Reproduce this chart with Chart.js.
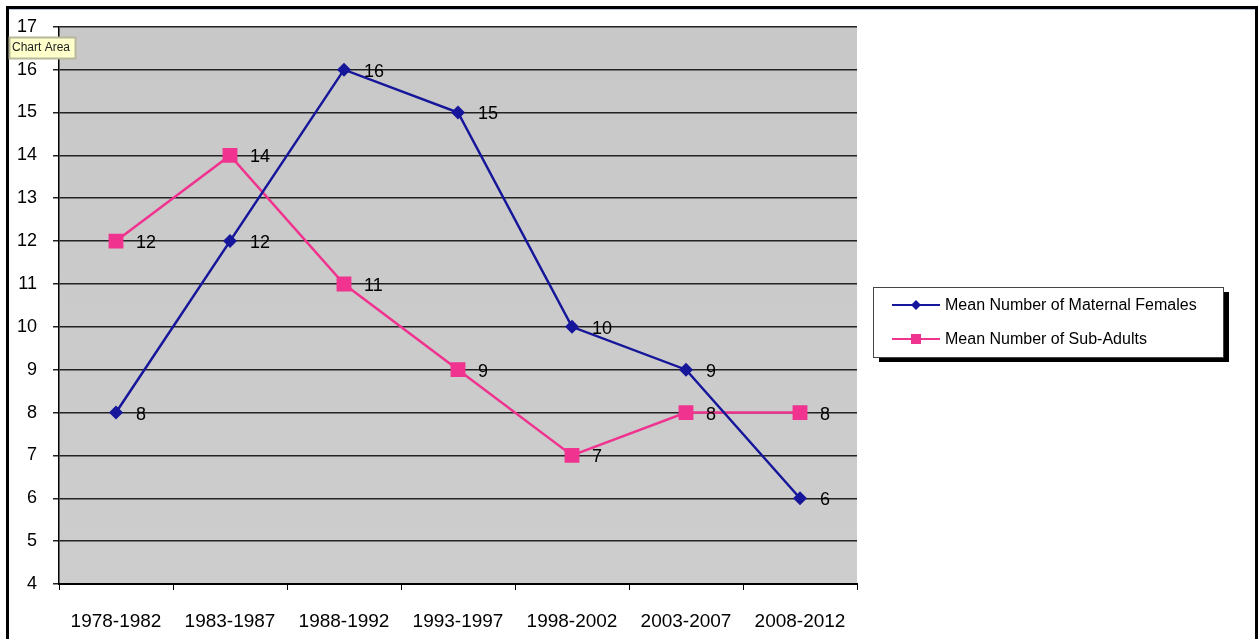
<!DOCTYPE html>
<html>
<head>
<meta charset="utf-8">
<script src="https://cdn.jsdelivr.net/npm/chart.js@4.4.1/dist/chart.umd.min.js"></script>
<style>
  html, body { margin: 0; padding: 0; background: #ffffff; }
  #wrap { position: relative; width: 1259px; height: 639px; }
</style>
</head>
<body>
<div id="wrap"><canvas id="c" width="1259" height="639"></canvas></div>
<script>
const categories = ['1978-1982', '1983-1987', '1988-1992', '1993-1997', '1998-2002', '2003-2007', '2008-2012'];
const maternalFemales = [8, 12, 16, 15, 10, 9, 6];
const subAdults = [12, 14, 11, 9, 7, 8, 8];
const seriesNames = ['Mean Number of Maternal Females', 'Mean Number of Sub-Adults'];
const yMin = 4, yMax = 17;

const FONT = '"Liberation Sans", Arial, sans-serif';
const BLUE = '#16169a';
const PINK = '#f0338f';

const framePlugin = {
  id: 'frame',
  beforeDraw(chart) {
    const ctx = chart.ctx;
    const a = chart.chartArea;
    ctx.save();
    ctx.fillStyle = '#ffffff';
    ctx.fillRect(0, 0, chart.width, chart.height);
    const g = ctx.createLinearGradient(a.left, a.top, a.left, a.bottom);
    g.addColorStop(0, '#c8c8c8');
    g.addColorStop(1, '#cdcdcd');
    ctx.fillStyle = g;
    ctx.fillRect(a.left, a.top, a.right - a.left, a.bottom - a.top);
    ctx.fillStyle = '#000000';
    ctx.fillRect(6, 6, 1252, 3);
    ctx.fillRect(6, 6, 3, 633);
    ctx.fillRect(1255, 6, 3, 633);
    ctx.fillStyle = '#b9c8e0';
    ctx.fillRect(9, 9, 1246, 1);
    ctx.restore();
  },
  afterDraw(chart) {
    const ctx = chart.ctx;
    ctx.save();
    const lx = 873, ly = 287, lw = 350, lh = 70;
    ctx.fillStyle = '#000000';
    ctx.fillRect(lx + 6, ly + 5, lw, lh);
    ctx.fillStyle = '#ffffff';
    ctx.fillRect(lx, ly, lw, lh);
    ctx.strokeStyle = '#444444';
    ctx.lineWidth = 1;
    ctx.strokeRect(lx + 0.5, ly + 0.5, lw, lh);
    const rows = [305, 339];
    chart.data.datasets.forEach((ds, i) => {
      const y = rows[i];
      ctx.strokeStyle = ds.borderColor;
      ctx.lineWidth = 2;
      ctx.beginPath();
      ctx.moveTo(892, y);
      ctx.lineTo(940, y);
      ctx.stroke();
      ctx.fillStyle = ds.borderColor;
      if (ds.pointStyle === 'rect') {
        ctx.fillRect(916 - 5, y - 5, 10, 10);
      } else {
        ctx.beginPath();
        ctx.moveTo(916, y - 5); ctx.lineTo(921, y); ctx.lineTo(916, y + 5); ctx.lineTo(911, y);
        ctx.closePath(); ctx.fill();
      }
      ctx.fillStyle = '#000000';
      ctx.font = '16px ' + FONT;
      ctx.textAlign = 'left';
      ctx.textBaseline = 'middle';
      ctx.fillText(ds.label, 945, y + 1);
    });
    ctx.fillStyle = '#ffffcc';
    ctx.fillRect(9, 37, 66, 21);
    ctx.strokeStyle = '#b8b89a';
    ctx.strokeRect(9.5, 37.5, 66, 21);
    ctx.fillStyle = '#222222';
    ctx.font = '12px ' + FONT;
    ctx.textAlign = 'left';
    ctx.textBaseline = 'middle';
    ctx.fillText('Chart Area', 12, 48);
    ctx.restore();
  }
};

const labelPlugin = {
  id: 'valueLabels',
  afterDatasetsDraw(chart) {
    const ctx = chart.ctx;
    ctx.save();
    ctx.fillStyle = '#000000';
    ctx.font = '18px ' + FONT;
    ctx.textAlign = 'left';
    ctx.textBaseline = 'middle';
    chart.data.datasets.forEach((ds, i) => {
      const meta = chart.getDatasetMeta(i);
      meta.data.forEach((pt, j) => {
        ctx.fillText(String(ds.data[j]), pt.x + 20, pt.y + 2);
      });
    });
    ctx.restore();
  }
};

new Chart(document.getElementById('c'), {
  type: 'line',
  data: {
    labels: categories,
    datasets: [
      {
        label: seriesNames[0],
        data: maternalFemales,
        borderColor: BLUE,
        backgroundColor: BLUE,
        borderWidth: 2.5,
        pointStyle: 'rectRot',
        pointRadius: 7,
        pointBorderWidth: 0,
        tension: 0
      },
      {
        label: seriesNames[1],
        data: subAdults,
        borderColor: PINK,
        backgroundColor: PINK,
        borderWidth: 2.5,
        pointStyle: 'rect',
        pointRadius: 10.5,
        pointBorderWidth: 0,
        tension: 0
      }
    ]
  },
  options: {
    responsive: false,
    animation: false,
    layout: { padding: { left: 0, right: 402, top: 23, bottom: 0 } },
    plugins: { legend: { display: false }, tooltip: { enabled: false } },
    scales: {
      x: {
        offset: true,
        afterFit(scale) { scale.height = 55; },
        grid: { display: true, drawOnChartArea: false, offset: true, tickLength: 6, color: '#000000', lineWidth: 1 },
        border: { display: true, color: '#000000', width: 2 },
        ticks: { color: '#000000', font: { family: FONT, size: 19 }, padding: 20, maxRotation: 0, autoSkip: false }
      },
      y: {
        min: yMin,
        max: yMax,
        afterFit(scale) { scale.width = 59; },
        grid: { color: '#222222', lineWidth: 1.5, tickLength: 6 },
        border: { display: true, color: '#000000', width: 1.5 },
        ticks: { stepSize: 1, color: '#000000', font: { family: FONT, size: 18 }, padding: 16 }
      }
    }
  },
  plugins: [framePlugin, labelPlugin]
});
</script>
</body>
</html>
